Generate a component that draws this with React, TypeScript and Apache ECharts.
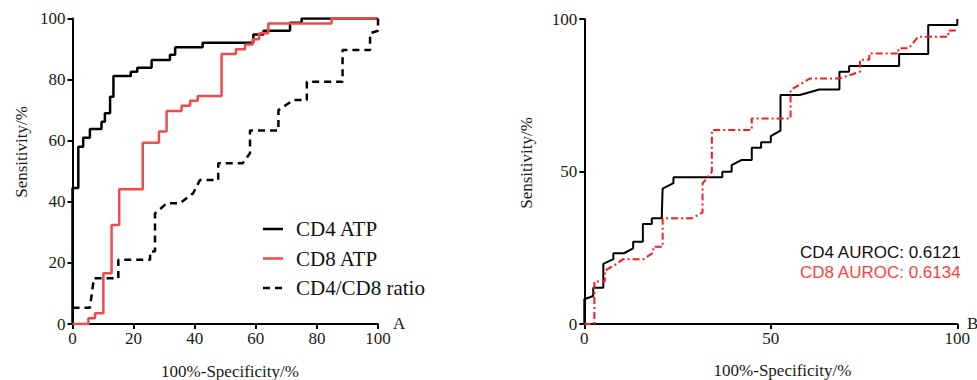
import React, { useEffect, useRef } from "react";
import * as echarts from "echarts";

const SERIF = "'Liberation Serif', 'Times New Roman', serif";
const SANS = "'Liberation Sans', Arial, sans-serif";

// Panel A – ROC curves: [100%-Specificity, Sensitivity]
const cd4AtpA: number[][] = [
  [0, 0], [0, 44.5], [1.9, 44.5], [1.9, 58], [3.5, 58], [3.5, 61], [5.7, 61], [5.7, 63.8],
  [9.5, 63.8], [9.5, 66.2], [10.6, 66.2], [10.6, 69], [12.3, 69], [12.3, 74.4], [13.4, 74.4],
  [13.4, 81.2], [19.1, 81.2], [19.1, 82.6], [21.2, 82.6], [21.2, 83.9], [25.9, 83.9], [25.9, 86.4],
  [31.9, 86.4], [31.9, 88.1], [33.6, 88.1], [33.6, 90.6], [42.6, 90.6], [42.6, 92.1], [59.2, 92.1],
  [59.2, 94.8], [62.5, 94.8], [62.5, 96], [71.2, 96], [71.2, 98.6], [75, 98.6], [75, 100], [100, 100],
];
const cd8AtpA: number[][] = [
  [0, 0], [5.2, 0], [5.2, 1.9], [7.4, 1.9], [7.4, 3.5], [10.1, 3.5], [10.1, 16.6], [12.8, 16.6],
  [12.8, 32.4], [15.3, 32.4], [15.3, 44.1], [23, 44.1], [23, 59.3], [28.3, 59.3], [28.3, 63],
  [30.8, 63], [30.8, 69.7], [35.7, 69.7], [35.7, 71.4], [38.5, 71.4], [38.5, 73.1], [41, 73.1],
  [41, 74.6], [48.8, 74.6], [48.8, 88.4], [53.5, 88.4], [53.5, 89.9], [56.5, 89.9], [56.5, 91.5],
  [59, 91.5], [59, 93.2], [61.1, 93.2], [61.1, 95.2], [64.1, 95.2], [64.1, 98.4], [84.8, 98.4],
  [84.8, 100], [100, 100],
];
const ratioA: number[][] = [
  [0, 5.3], [5.7, 5.3], [7, 15], [15, 15], [15, 21], [25.4, 21], [25.4, 23.7], [27, 23.7],
  [27, 36.2], [30.8, 39.5], [35.2, 39.5], [39.5, 42.8], [41.7, 47.1], [47.7, 47.1], [47.7, 52.6],
  [55.7, 52.6], [58.1, 55.9], [58.1, 63.3], [67.4, 63.3], [67.4, 70], [72.3, 73.3], [76.7, 73.3],
  [76.7, 79.3], [88.4, 79.3], [88.4, 89.7], [97.4, 89.7], [97.4, 95.2], [100, 96], [100, 100],
];

// Panel B – ROC curves
const cd4B: number[][] = [
  [0, 0], [0, 8.1], [2.4, 9.2], [2.4, 11.9], [5.1, 11.9], [5.1, 19.7], [7.8, 21.3], [7.8, 23.2],
  [10.6, 23.2], [13.1, 24.8], [13.1, 27], [15.7, 27], [15.7, 32.8], [18.1, 32.8], [18.1, 34.7],
  [20.8, 34.7], [20.8, 36.3], [21, 44.4], [23.9, 46.2], [23.9, 48.1], [37, 48.1], [37, 49.9],
  [39.5, 49.9], [39.5, 52.1], [42.2, 53.8], [44.9, 53.8], [44.9, 57.8], [47.4, 57.8], [47.4, 59.6],
  [50, 59.6], [50, 61.6], [52.6, 63.4], [52.6, 75.1], [57.8, 75.1], [63, 76.9], [68.4, 76.9],
  [68.4, 82.7], [71, 82.7], [71, 84.6], [84.4, 84.6], [84.4, 88.5], [92.2, 88.5], [92.2, 98],
  [100, 98], [100, 100],
];
const cd8B: number[][] = [
  [0, 0], [2.7, 0], [2.7, 13.9], [5.5, 13.9], [5.5, 17.5], [8.2, 19.3], [10.3, 21.2], [15.8, 21.2],
  [18.5, 23.4], [18.5, 25.3], [21, 25.3], [21, 34.7], [28.8, 34.7], [31.7, 36.5], [31.7, 46.1],
  [34.2, 49.9], [34.2, 63.6], [44.9, 63.6], [44.9, 67.4], [55.3, 67.4], [55.3, 76.7], [60.5, 80.5],
  [68.4, 80.5], [73.9, 82.7], [73.9, 86.6], [76.4, 86.6], [76.4, 88.7], [84.2, 88.7], [84.2, 90.4],
  [87, 90.4], [89.5, 94.2], [97.6, 94.2], [97.6, 96.2], [100, 96.2],
];

const seriesNamesA = ["CD4 ATP", "CD8 ATP", "CD4/CD8 ratio"];
const aurocTexts = ["CD4 AUROC: 0.6121", "CD8 AUROC: 0.6134"];
const ticksA = 20;
const ticksB = 50;

const COLOR_RED_A = "#f24a4a";
const COLOR_RED_B = "#ff1a1a";
const DASH_A = [7, 5];
const DASH_DOT_B = [7, 3, 2, 3];

function axis(gridIndex: number, interval: number, isX: boolean) {
  return {
    type: "value",
    gridIndex,
    min: 0,
    max: 100,
    interval,
    axisLine: { show: true, onZero: false, lineStyle: { color: "#000", width: 2 } },
    axisTick: { show: true, length: 5, lineStyle: { color: "#000", width: 2 } },
    axisLabel: {
      color: "#1a1a1a",
      fontFamily: SERIF,
      fontSize: 17,
      margin: isX ? 6 : 7,
    },
    splitLine: { show: false },
  };
}

export default function App() {
  const ref = useRef<HTMLDivElement>(null);
  useEffect(() => {
    const chart = echarts.init(ref.current!, null, { renderer: "svg" });

    const legendStyles = [
      { stroke: "#000", lineWidth: 2.5 },
      { stroke: COLOR_RED_A, lineWidth: 2.5 },
      { stroke: "#000", lineWidth: 2.5, lineDash: DASH_A },
    ];
    const legendRowsY = [229, 258.5, 288];
    const legendGraphics: any[] = [];
    seriesNamesA.forEach((name, i) => {
      legendGraphics.push({
        type: "line",
        shape: { x1: 263, y1: legendRowsY[i], x2: 283, y2: legendRowsY[i] },
        style: legendStyles[i],
      });
      legendGraphics.push({
        type: "text",
        x: 296,
        y: legendRowsY[i],
        style: { text: name, font: `21px ${SERIF}`, fill: "#111", align: "left", verticalAlign: "middle" },
      });
    });

    chart.setOption({
      animation: false,
      backgroundColor: "#fff",
      grid: [
        { left: 72.5, top: 18.5, width: 305.5, height: 305.5 },
        { left: 584.3, top: 19, width: 373, height: 305 },
      ],
      xAxis: [axis(0, ticksA, true), axis(1, ticksB, true)],
      yAxis: [axis(0, ticksA, false), axis(1, ticksB, false)],
      series: [
        {
          name: seriesNamesA[0], type: "line", xAxisIndex: 0, yAxisIndex: 0, data: cd4AtpA,
          symbol: "none", lineStyle: { color: "#000", width: 2.5 }, itemStyle: { color: "#000" },
        },
        {
          name: seriesNamesA[1], type: "line", xAxisIndex: 0, yAxisIndex: 0, data: cd8AtpA,
          symbol: "none", lineStyle: { color: COLOR_RED_A, width: 2.5 }, itemStyle: { color: COLOR_RED_A },
        },
        {
          name: seriesNamesA[2], type: "line", xAxisIndex: 0, yAxisIndex: 0, data: ratioA,
          symbol: "none", lineStyle: { color: "#000", width: 2.5, type: DASH_A }, itemStyle: { color: "#000" },
        },
        {
          name: "CD4 B", type: "line", xAxisIndex: 1, yAxisIndex: 1, data: cd4B,
          symbol: "none", lineStyle: { color: "#000", width: 2 }, itemStyle: { color: "#000" }, z: 3,
        },
        {
          name: "CD8 B", type: "line", xAxisIndex: 1, yAxisIndex: 1, data: cd8B,
          symbol: "none", lineStyle: { color: COLOR_RED_B, width: 2, type: DASH_DOT_B }, itemStyle: { color: COLOR_RED_B }, z: 4,
        },
      ],
      graphic: [
        ...legendGraphics,
        {
          type: "text", x: 21.7, y: 152, rotation: Math.PI / 2,
          style: { text: "Sensitivity/%", font: `17px ${SERIF}`, fill: "#1a1a1a", align: "center", verticalAlign: "middle" },
        },
        {
          type: "text", x: 526, y: 163, rotation: Math.PI / 2,
          style: { text: "Sensitivity/%", font: `17px ${SERIF}`, fill: "#1a1a1a", align: "center", verticalAlign: "middle" },
        },
        {
          type: "text", x: 230, y: 371.5,
          style: { text: "100%-Specificity/%", font: `17px ${SERIF}`, fill: "#1a1a1a", align: "center", verticalAlign: "middle" },
        },
        {
          type: "text", x: 782.5, y: 370,
          style: { text: "100%-Specificity/%", font: `17px ${SERIF}`, fill: "#1a1a1a", align: "center", verticalAlign: "middle" },
        },
        {
          type: "text", x: 393, y: 323,
          style: { text: "A", font: `17px ${SERIF}`, fill: "#1a1a1a", align: "left", verticalAlign: "middle" },
        },
        {
          type: "text", x: 967, y: 323,
          style: { text: "B", font: `17px ${SERIF}`, fill: "#1a1a1a", align: "left", verticalAlign: "middle" },
        },
        {
          type: "text", x: 800, y: 252.7,
          style: { text: aurocTexts[0], font: `17px ${SANS}`, fill: "#111", align: "left", verticalAlign: "middle" },
        },
        {
          type: "text", x: 800, y: 272.7,
          style: { text: aurocTexts[1], font: `17px ${SANS}`, fill: "#ff4040", align: "left", verticalAlign: "middle" },
        },
      ],
    });
    return () => chart.dispose();
  }, []);
  return (
    <div
      ref={ref}
      style={{ position: "absolute", left: 0, top: 0, width: 977, height: 380 }}
    />
  );
}
